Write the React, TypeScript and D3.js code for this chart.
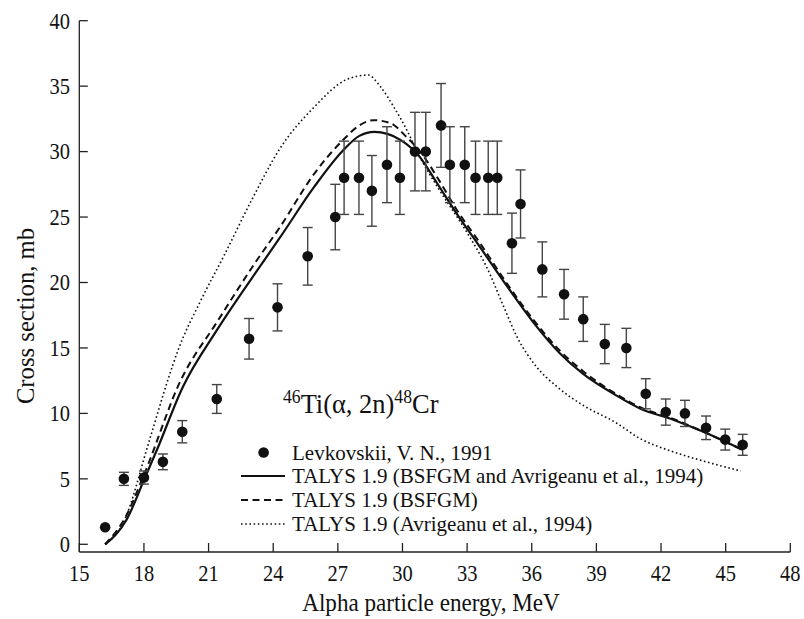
import React from "react";
import * as d3 from "d3";

// Experimental data (Levkovskii, 1991)
const expE = [16.2, 17.07, 18.0, 18.88, 19.78, 21.38, 22.88, 24.2, 25.6, 26.88, 27.29, 27.98, 28.58, 29.28, 29.88, 30.58, 31.08, 31.79, 32.2, 32.89, 33.39, 33.98, 34.4, 35.08, 35.48, 36.49, 37.5, 38.39, 39.39, 40.39, 41.29, 42.22, 43.11, 44.09, 44.98, 45.79];
const expY = [1.3, 5.0, 5.1, 6.3, 8.6, 11.1, 15.7, 18.1, 22.0, 25.0, 28.0, 28.0, 27.0, 29.0, 28.0, 30.0, 30.0, 32.0, 29.0, 29.0, 28.0, 28.0, 28.0, 23.0, 26.0, 21.0, 19.1, 17.2, 15.3, 15.0, 11.5, 10.1, 10.0, 8.9, 8.0, 7.6];
const expErr = [0, 0.5, 0.5, 0.6, 0.85, 1.1, 1.55, 1.8, 2.2, 2.5, 2.8, 2.8, 2.7, 2.9, 2.8, 3.0, 3.0, 3.2, 2.9, 2.9, 2.8, 2.8, 2.8, 2.3, 2.6, 2.1, 1.9, 1.7, 1.5, 1.5, 1.15, 1.0, 1.0, 0.9, 0.8, 0.8];

// TALYS 1.9 (BSFGM and Avrigeanu et al., 1994) — solid
const solidE = [16.2, 17.2, 18.0, 18.6, 19.8, 21.4, 23.5, 24.3, 25.9, 27.25, 28.0, 28.7, 29.9, 30.8, 31.6, 32.5, 33.6, 34.9, 36.1, 37.3, 38.4, 39.9, 41.0, 42.6, 44.1, 45.8];
const solidY = [0.0, 1.9, 4.9, 7.2, 12.0, 16.4, 21.5, 23.4, 27.3, 30.1, 31.2, 31.5, 30.9, 29.6, 27.6, 25.3, 22.7, 19.6, 16.9, 14.6, 13.0, 11.4, 10.4, 9.5, 8.5, 7.2];

// TALYS 1.9 (BSFGM) — dashed
const dashE = [16.2, 17.15, 18.0, 19.7, 21.4, 23.2, 24.3, 25.9, 27.25, 28.0, 28.65, 29.4, 30.2, 31.0, 31.7, 32.5, 33.6, 34.9, 36.1, 37.3, 38.4, 39.9, 41.0, 42.6, 44.1, 45.8];
const dashY = [0.0, 2.1, 5.3, 12.5, 17.0, 21.6, 24.2, 28.3, 30.9, 32.0, 32.4, 32.2, 31.1, 29.6, 27.8, 25.6, 23.0, 19.8, 17.1, 14.8, 13.2, 11.5, 10.5, 9.55, 8.5, 7.2];

// TALYS 1.9 (Avrigeanu et al., 1994) — dotted
const dotE = [16.2, 17.0, 18.3, 19.1, 19.6, 20.6, 21.7, 23.0, 24.3, 25.9, 27.4, 28.4, 28.96, 29.6, 30.2, 30.8, 31.7, 33.0, 33.9, 34.7, 35.3, 36.2, 37.2, 38.4, 39.9, 41.0, 42.5, 44.1, 45.7];
const dotY = [0.0, 1.5, 8.2, 12.5, 14.9, 18.5, 22.0, 26.3, 30.2, 33.4, 35.5, 35.85, 35.0, 33.4, 31.65, 29.6, 27.1, 23.8, 21.2, 18.15, 15.9, 13.6, 12.0, 10.6, 9.3, 8.1, 7.1, 6.3, 5.6];

const xTicks = [15, 18, 21, 24, 27, 30, 33, 36, 39, 42, 45, 48];
const yTicks = [0, 5, 10, 15, 20, 25, 30, 35, 40];

const legendLabels = [
  "Levkovskii, V. N., 1991",
  "TALYS 1.9 (BSFGM and Avrigeanu et al., 1994)",
  "TALYS 1.9 (BSFGM)",
  "TALYS 1.9 (Avrigeanu et al., 1994)",
];

const FONT = "'Liberation Serif', 'Times New Roman', serif";

function T({ x, y, size, anchor = "start", sx = 0.89, children, dy }: any) {
  return (
    <text
      transform={`translate(${x},${y}) scale(${sx},1)`}
      fontSize={size}
      textAnchor={anchor}
      dy={dy}
      fill="#111"
    >
      {children}
    </text>
  );
}

export default function App() {
  const W = 804, H = 619;
  const x = d3.scaleLinear().domain([15, 48]).range([79.3, 790.3]);
  const y = d3.scaleLinear().domain([0, 40]).range([544.3, 20.7]);
  const axisY = 552;

  const mk = (es: number[], ys: number[]) =>
    d3.line<number>().x((_, i) => x(es[i])).y((_, i) => y(ys[i])).curve(d3.curveMonotoneX)(es) || "";

  const legendY = [452.5, 476, 500, 524];

  return (
    <svg width={W} height={H} style={{ position: "absolute", left: 0, top: 0, background: "#fff" }} fontFamily={FONT}>
      <rect width={W} height={H} fill="#fff" />
      {/* axes */}
      <line x1={x(15)} x2={x(48)} y1={axisY} y2={axisY} stroke="#222" strokeWidth={1.3} />
      <line x1={x(15)} x2={x(15)} y1={y(40)} y2={axisY} stroke="#222" strokeWidth={1.3} />
      {xTicks.map((t) => (
        <g key={"xt" + t}>
          <line x1={x(t)} x2={x(t)} y1={axisY} y2={axisY - 9} stroke="#222" strokeWidth={1.3} />
          <T x={x(t)} y={581} size={23} anchor="middle">{t}</T>
        </g>
      ))}
      {yTicks.map((t) => (
        <g key={"yt" + t}>
          <line x1={x(15)} x2={x(15) + 8.5} y1={y(t)} y2={y(t)} stroke="#222" strokeWidth={1.3} />
          <T x={70} y={y(t)} dy="0.34em" size={23} anchor="end">{t}</T>
        </g>
      ))}
      <T x={431} y={611} size={26} anchor="middle">Alpha particle energy, MeV</T>
      <text transform={`translate(34,316) rotate(-90) scale(0.95,1)`} textAnchor="middle" fontSize={26} fill="#111">
        Cross section, mb
      </text>

      {/* curves */}
      <path d={mk(dotE, dotY)} fill="none" stroke="#111" strokeWidth={1.6} strokeDasharray="1.6,2.6" />
      <path d={mk(dashE, dashY)} fill="none" stroke="#111" strokeWidth={2} strokeDasharray="7,4.5" />
      <path d={mk(solidE, solidY)} fill="none" stroke="#111" strokeWidth={2.2} />

      {/* data */}
      {expE.map((e, i) => (
        <g key={"p" + i}>
          {expErr[i] > 0 && (
            <g stroke="#444" strokeWidth={1.4}>
              <line x1={x(e)} x2={x(e)} y1={y(expY[i] - expErr[i])} y2={y(expY[i] + expErr[i])} />
              <line x1={x(e) - 5} x2={x(e) + 5} y1={y(expY[i] - expErr[i])} y2={y(expY[i] - expErr[i])} />
              <line x1={x(e) - 5} x2={x(e) + 5} y1={y(expY[i] + expErr[i])} y2={y(expY[i] + expErr[i])} />
            </g>
          )}
          <circle cx={x(e)} cy={y(expY[i])} r={5.3} fill="#111" />
        </g>
      ))}

      {/* reaction label */}
      <text transform={`translate(283,413) scale(0.98,1)`} fontSize={27} fill="#111">
        <tspan fontSize={18} dy={-10}>46</tspan>
        <tspan dy={10}>Ti(α, 2n)</tspan>
        <tspan fontSize={18} dy={-10}>48</tspan>
        <tspan dy={10}>Cr</tspan>
      </text>

      {/* legend */}
      <circle cx={263.6} cy={legendY[0]} r={5.3} fill="#111" />
      <line x1={241} x2={285} y1={legendY[1]} y2={legendY[1]} stroke="#111" strokeWidth={2.2} />
      <line x1={241} x2={285} y1={legendY[2]} y2={legendY[2]} stroke="#111" strokeWidth={2} strokeDasharray="7,4.5" />
      <line x1={241} x2={285} y1={legendY[3]} y2={legendY[3]} stroke="#111" strokeWidth={1.6} strokeDasharray="1.6,2.6" />
      {legendLabels.map((l, i) => (
        <T key={l} x={292} y={legendY[i]} dy="0.34em" size={21} sx={1.0}>{l}</T>
      ))}
    </svg>
  );
}
